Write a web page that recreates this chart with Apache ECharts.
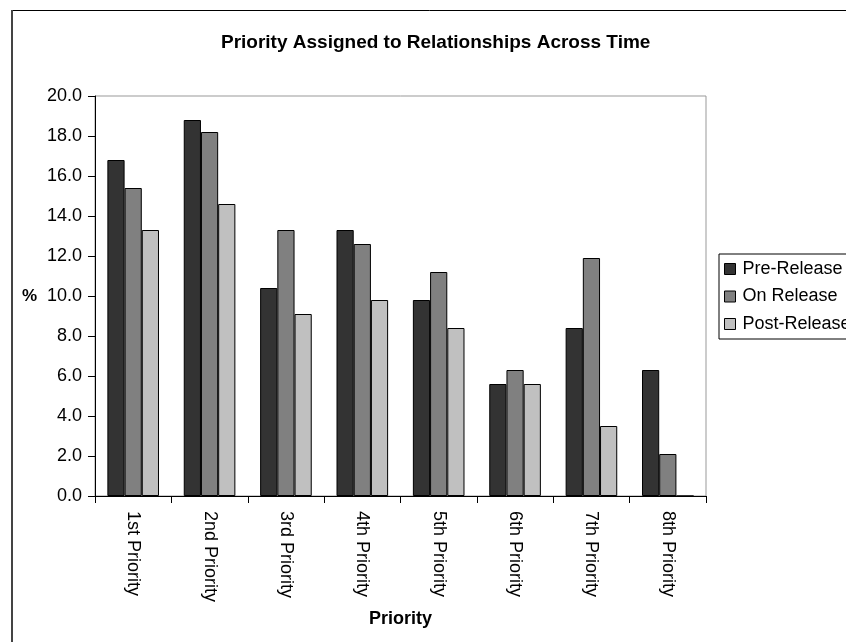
<!DOCTYPE html>
<html>
<head>
<meta charset="utf-8">
<script src="https://cdn.jsdelivr.net/npm/echarts@6/dist/echarts.min.js"></script>
<style>
  html, body { margin: 0; padding: 0; background: #fff; }
  #chart { width: 846px; height: 642px; }
</style>
</head>
<body>
<div id="chart"></div>
<script>
// Categories and shares (%) for each release phase
const categories = ['1st Priority', '2nd Priority', '3rd Priority', '4th Priority',
                    '5th Priority', '6th Priority', '7th Priority', '8th Priority'];
const preRelease  = [16.8, 18.8, 10.4, 13.3, 9.8, 5.6, 8.4, 6.3];
const onRelease   = [15.4, 18.2, 13.3, 12.6, 11.2, 6.3, 11.9, 2.1];
const postRelease = [13.3, 14.6, 9.1, 9.8, 8.4, 5.6, 3.5, 0];
const seriesNames = ['Pre-Release', 'On Release', 'Post-Release'];
const yTicks = { min: 0, max: 20, interval: 2 };

const FONT = "'Liberation Sans', Arial, Helvetica, sans-serif";
const colors = ['#333333', '#808080', '#c0c0c0'];

const chart = echarts.init(document.getElementById('chart'), null, { renderer: 'canvas' });

function barSeries(name, data, color) {
  return {
    name: name,
    type: 'bar',
    data: data,
    barWidth: 17.2,
    barGap: '0%',
    itemStyle: { color: color, borderColor: '#000', borderWidth: 1 },
    emphasis: { disabled: true }
  };
}

chart.setOption({
  animation: false,
  textStyle: { fontFamily: FONT },
  title: {
    text: 'Priority Assigned to Relationships Across Time',
    left: 221,
    top: 33,
    padding: 0,
    textStyle: { fontFamily: FONT, fontSize: 19, fontWeight: 'bold', color: '#000' }
  },
  graphic: [
    {
      type: 'rect',
      shape: { x: 11.5, y: 10.5, width: 900, height: 700 },
      style: { fill: 'none', stroke: '#000', lineWidth: 1 },
      silent: true
    },
    {
      type: 'line',
      shape: { x1: 12, y1: 10, x2: 12, y2: 700 },
      style: { stroke: '#444', lineWidth: 2 },
      silent: true
    }
  ],
  legend: {
    orient: 'vertical',
    left: 719,
    top: 254,
    padding: [6, 30, 6, 5],
    itemWidth: 11,
    itemHeight: 11,
    itemGap: 9.5,
    borderColor: '#000',
    borderWidth: 1,
    icon: 'rect',
    itemStyle: { borderColor: '#000', borderWidth: 1 },
    textStyle: { fontFamily: FONT, fontSize: 18, color: '#000', lineHeight: 18, padding: [0, 0, 0, 2] },
    data: seriesNames
  },
  grid: { left: 95, top: 96, right: 140, bottom: 146, show: true, borderColor: '#999', borderWidth: 1 },
  xAxis: {
    type: 'category',
    data: categories,
    name: 'Priority',
    nameLocation: 'middle',
    nameGap: 114,
    nameTextStyle: { fontFamily: FONT, fontSize: 18, fontWeight: 'bold', color: '#000' },
    axisLine: { lineStyle: { color: '#000', width: 1 } },
    axisTick: { show: true, length: 7, lineStyle: { color: '#000' } },
    axisLabel: { rotate: -90, margin: 15, fontFamily: FONT, fontSize: 18, color: '#000' }
  },
  yAxis: {
    type: 'value',
    min: yTicks.min,
    max: yTicks.max,
    interval: yTicks.interval,
    name: '%',
    nameLocation: 'middle',
    nameRotate: 0,
    nameGap: 58,
    nameTextStyle: { fontFamily: FONT, fontSize: 17, fontWeight: 'bold', color: '#000' },
    axisLine: { show: true, lineStyle: { color: '#000', width: 1 } },
    axisTick: { show: true, length: 7, lineStyle: { color: '#000' } },
    splitLine: { show: false },
    axisLabel: {
      margin: 13,
      fontFamily: FONT, fontSize: 18, color: '#000',
      formatter: v => v.toFixed(1)
    }
  },
  series: [
    barSeries(seriesNames[0], preRelease, colors[0]),
    barSeries(seriesNames[1], onRelease, colors[1]),
    barSeries(seriesNames[2], postRelease, colors[2])
  ]
});
</script>
</body>
</html>
